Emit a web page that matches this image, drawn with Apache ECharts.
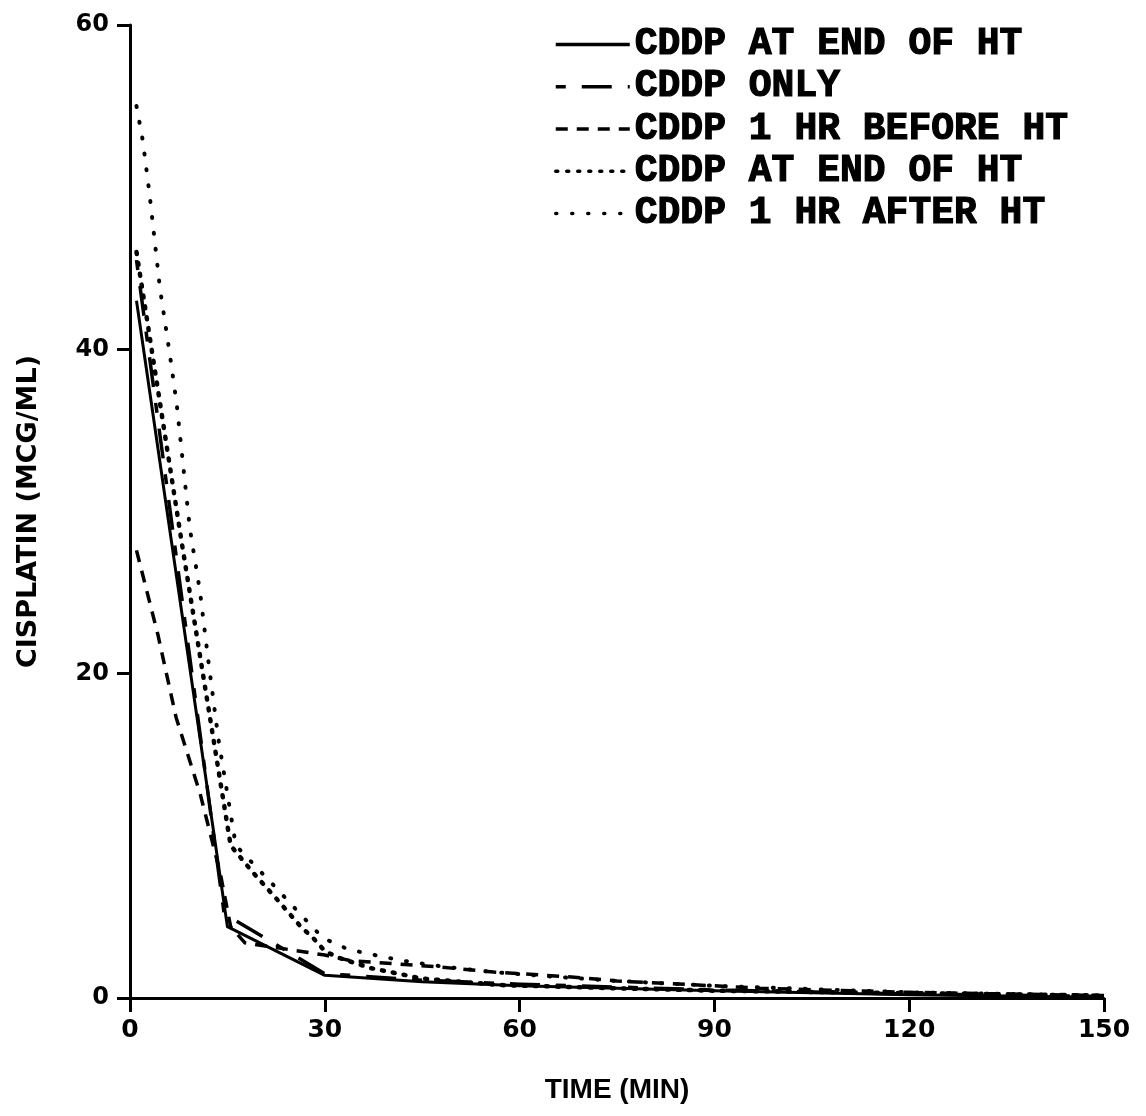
<!DOCTYPE html>
<html>
<head>
<meta charset="utf-8">
<script src="https://cdn.jsdelivr.net/npm/echarts@6/dist/echarts.min.js"></script>
<style>
html,body{margin:0;padding:0;background:#fff;}
#chart{width:1146px;height:1116px;}
</style>
</head>
<body>
<div id="chart"></div>
<script>
// ---- data ----
var seriesNames = ['CDDP AT END OF HT', 'CDDP ONLY', 'CDDP 1 HR BEFORE HT', 'CDDP AT END OF HT ', 'CDDP 1 HR AFTER HT'];

var tEndSolid = [1, 15, 30, 45, 60, 90, 120, 150];
var vEndSolid = [43, 4.4, 1.4, 1.0, 0.75, 0.45, 0.2, 0.05];

var tOnly = [1, 14.5, 30, 45, 60, 90, 120, 150];
var vOnly = [45.5, 5.2, 1.5, 1.1, 0.85, 0.5, 0.25, 0.1];

var tBefore = [1, 4.3, 7.1, 10.8, 13.9, 15.5, 17.7, 30, 34, 48, 56, 68, 75, 90, 97, 120, 150];
var vBefore = [27.6, 22.4, 17.3, 12.6, 7.7, 4.4, 3.4, 2.65, 2.3, 1.9, 1.6, 1.3, 1.05, 0.75, 0.6, 0.35, 0.15];

var tEndDot = [1, 8, 15.5, 18.8, 22.6, 26.3, 28.2, 30, 32, 37, 45, 57, 75, 90, 120, 150];
var vEndDot = [46, 28, 9.4, 7.8, 6.1, 4.4, 3.7, 2.9, 2.5, 1.85, 1.2, 0.8, 0.6, 0.45, 0.3, 0.15];

var tAfter = [1, 2, 3, 4.6, 6.2, 7.2, 9.2, 10.8, 12, 13.6, 16.3, 18.2, 22, 25.7, 29.7, 33.6, 37.7, 42, 48, 56, 64, 75, 90, 105, 120, 150];
var vAfter = [55, 52.8, 49.6, 43.8, 39.5, 36.6, 29, 25, 21, 16, 9.4, 8.6, 7.0, 5.4, 3.7, 3.0, 2.65, 2.3, 1.95, 1.6, 1.35, 1.05, 0.75, 0.55, 0.35, 0.15];

var xTicks = [0, 30, 60, 90, 120, 150];
var yTicks = [0, 20, 40, 60];

function zip(t, v) { return t.map(function (x, i) { return [x, v[i]]; }); }

var styles = [
  { width: 3, type: 'solid', cap: 'butt' },
  { width: 3.5, type: [10, 16, 30, 16], cap: 'butt' },
  { width: 3.5, type: [12, 9], cap: 'butt' },
  { width: 4.5, type: [2, 9], cap: 'round' },
  { width: 4, type: [1, 15], cap: 'round' }
];
var dataSets = [zip(tEndSolid, vEndSolid), zip(tOnly, vOnly), zip(tBefore, vBefore), zip(tEndDot, vEndDot), zip(tAfter, vAfter)];

var series = seriesNames.map(function (n, i) {
  return {
    name: n, type: 'line', data: dataSets[i], symbol: 'none', showSymbol: false,
    smooth: false, animation: false, color: '#000',
    itemStyle: { color: '#000' },
    lineStyle: { color: '#000', width: styles[i].width, type: styles[i].type, cap: styles[i].cap, join: 'round' }
  };
});

var chart = echarts.init(document.getElementById('chart'), null, { renderer: 'canvas' });
chart.setOption({
  backgroundColor: '#fff',
  animation: false,
  grid: { left: 130, right: 42, top: 25, bottom: 118, outerBoundsMode: 'none', containLabel: false },
  legend: {
    orient: 'vertical', left: 549, top: 20,
    itemWidth: 74, itemHeight: 20, itemGap: 3,
    data: seriesNames,
    itemStyle: { opacity: 0, borderWidth: 0 },
    lineStyle: { width: 3.5 },
    textStyle: { fontFamily: 'Liberation Mono', fontWeight: 'bold', fontSize: 38, lineHeight: 38, color: '#000', textBorderColor: '#000', textBorderWidth: 1.2 },
    formatter: function (n) { return n.trim(); }
  },
  xAxis: {
    type: 'value', min: 0, max: 150, interval: 30,
    name: 'TIME (MIN)', nameLocation: 'middle', nameGap: 78,
    nameTextStyle: { fontFamily: "'Liberation Sans Narrow', 'Liberation Sans'", fontWeight: 'bold', fontSize: 28, color: '#000' },
    axisLine: { show: true, onZero: false, lineStyle: { color: '#000', width: 3 } },
    axisTick: { show: true, inside: false, length: 14, lineStyle: { color: '#000', width: 3 } },
    axisLabel: { margin: 20, fontFamily: 'DejaVu Sans', fontWeight: 'bold', fontSize: 25, color: '#000',
      formatter: function (v) { return xTicks.indexOf(v) >= 0 ? String(v) : ''; } },
    splitLine: { show: false }
  },
  yAxis: {
    type: 'value', min: 0, max: 60, interval: 20,
    name: 'CISPLATIN (MCG/ML)', nameLocation: 'middle', nameGap: 88, nameRotate: 90,
    nameTextStyle: { fontFamily: 'DejaVu Sans', fontWeight: 'bold', fontSize: 27, color: '#000' },
    axisLine: { show: true, onZero: false, lineStyle: { color: '#000', width: 3 } },
    axisTick: { show: true, inside: false, length: 13, lineStyle: { color: '#000', width: 3 } },
    axisLabel: { margin: 21, fontFamily: 'DejaVu Sans', fontWeight: 'bold', fontSize: 24, color: '#000',
      formatter: function (v) { return yTicks.indexOf(v) >= 0 ? String(v) : ''; } },
    splitLine: { show: false }
  },
  series: series
});
</script>
</body>
</html>
